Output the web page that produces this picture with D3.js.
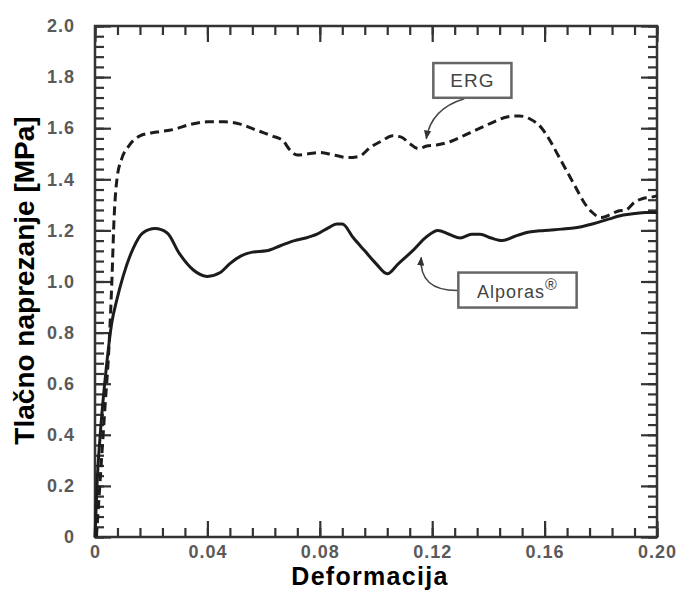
<!DOCTYPE html>
<html>
<head>
<meta charset="utf-8">
<script src="https://cdn.jsdelivr.net/npm/d3@7"></script>
<style>
  body { margin: 0; background: #fff; }
  text { font-family: "Liberation Sans", Arial, sans-serif; }
</style>
</head>
<body>
<div id="chart"></div>
<script>
// Data (strain, stress in MPa)
const ergStrain = [0.0005, 0.002, 0.0035, 0.005, 0.006, 0.0068, 0.0078, 0.0095, 0.012, 0.016, 0.022, 0.028, 0.034, 0.040, 0.046, 0.052, 0.058, 0.063, 0.067, 0.069, 0.072, 0.076, 0.080, 0.085, 0.090, 0.094, 0.098, 0.102, 0.106, 0.109, 0.112, 0.115, 0.118, 0.122, 0.127, 0.132, 0.137, 0.142, 0.147, 0.151, 0.155, 0.159, 0.162, 0.165, 0.168, 0.171, 0.174, 0.177, 0.180, 0.183, 0.186, 0.189, 0.192, 0.195, 0.198, 0.200];
const ergStress = [0, 0.25, 0.5, 0.75, 1.0, 1.25, 1.40, 1.48, 1.53, 1.57, 1.585, 1.595, 1.615, 1.625, 1.625, 1.615, 1.59, 1.57, 1.55, 1.52, 1.495, 1.50, 1.505, 1.495, 1.485, 1.49, 1.525, 1.55, 1.57, 1.565, 1.54, 1.52, 1.53, 1.535, 1.55, 1.575, 1.60, 1.625, 1.645, 1.648, 1.635, 1.60, 1.55, 1.49, 1.43, 1.37, 1.31, 1.27, 1.25, 1.26, 1.275, 1.28, 1.31, 1.325, 1.33, 1.335];

const alpStrain = [0, 0.0007, 0.002, 0.004, 0.006, 0.0078, 0.010, 0.0136, 0.017, 0.0214, 0.0257, 0.030, 0.035, 0.040, 0.0446, 0.048, 0.052, 0.056, 0.061, 0.066, 0.071, 0.075, 0.079, 0.083, 0.086, 0.088, 0.092, 0.096, 0.100, 0.104, 0.108, 0.113, 0.118, 0.122, 0.126, 0.130, 0.134, 0.137, 0.141, 0.145, 0.149, 0.153, 0.160, 0.166, 0.171, 0.177, 0.183, 0.188, 0.192, 0.196, 0.200];
const alpStress = [0, 0.2, 0.42, 0.66, 0.84, 0.93, 1.02, 1.13, 1.19, 1.207, 1.19, 1.11, 1.045, 1.02, 1.035, 1.07, 1.10, 1.115, 1.12, 1.14, 1.16, 1.17, 1.185, 1.21, 1.225, 1.225, 1.17, 1.12, 1.07, 1.03, 1.07, 1.12, 1.175, 1.20, 1.185, 1.17, 1.185, 1.185, 1.17, 1.16, 1.175, 1.19, 1.20, 1.205, 1.21, 1.225, 1.245, 1.26, 1.266, 1.27, 1.27];

const xTickValues = [0, 0.04, 0.08, 0.12, 0.16, 0.20];
const xTickLabels = ["0", "0.04", "0.08", "0.12", "0.16", "0.20"];
const yTickValues = [0, 0.2, 0.4, 0.6, 0.8, 1.0, 1.2, 1.4, 1.6, 1.8, 2.0];
const yTickLabels = ["0", "0.2", "0.4", "0.6", "0.8", "1.0", "1.2", "1.4", "1.6", "1.8", "2.0"];

// Chart size and margins
const w = 676, h = 592;
const margin = { top: 26, right: 19, bottom: 55, left: 95 };

const svg = d3.select("#chart").append("svg").attr("width", w).attr("height", h);
svg.append("rect").attr("width", w).attr("height", h).attr("fill", "#fff");

const xScale = d3.scaleLinear().domain([0, 0.2]).range([margin.left, w - margin.right]);
const yScale = d3.scaleLinear().domain([0, 2.0]).range([h - margin.bottom, margin.top]);

const x0 = margin.left, x1 = w - margin.right, y0 = h - margin.bottom, y1 = margin.top;
const axisColor = "#333";

// minor tick positions
const xMinor = d3.range(0, 0.2001, 0.008).map(v => +v.toFixed(3));
const yMinor = d3.range(0, 2.0001, 0.04).map(v => +v.toFixed(2));

function styleAxis(g) {
  g.select(".domain").remove();
  g.selectAll(".tick line").attr("stroke", axisColor).attr("stroke-width", 2.2);
}

// bottom axis (labels + inward ticks)
svg.append("g").attr("transform", `translate(0,${y0})`)
  .call(d3.axisBottom(xScale).tickValues(xMinor).tickSize(-9).tickFormat(""))
  .call(styleAxis);
const bottomAxis = svg.append("g").attr("transform", `translate(0,${y0})`)
  .call(d3.axisBottom(xScale).tickValues(xTickValues).tickSize(-16).tickPadding(8)
    .tickFormat((d, i) => xTickLabels[i]))
  .call(styleAxis);
bottomAxis.selectAll(".tick text")
  .attr("fill", "#5a5a5a").attr("font-size", 18).attr("font-weight", "bold")
  .attr("letter-spacing", 1);

// top axis
svg.append("g").attr("transform", `translate(0,${y1})`)
  .call(d3.axisTop(xScale).tickValues(xMinor).tickSize(-9).tickFormat(""))
  .call(styleAxis);
svg.append("g").attr("transform", `translate(0,${y1})`)
  .call(d3.axisTop(xScale).tickValues(xTickValues).tickSize(-16).tickFormat(""))
  .call(styleAxis);

// left axis
svg.append("g").attr("transform", `translate(${x0},0)`)
  .call(d3.axisLeft(yScale).tickValues(yMinor).tickSize(-9).tickFormat(""))
  .call(styleAxis);
const leftAxis = svg.append("g").attr("transform", `translate(${x0},0)`)
  .call(d3.axisLeft(yScale).tickValues(yTickValues).tickSize(-16).tickPadding(20)
    .tickFormat((d, i) => yTickLabels[i]))
  .call(styleAxis);
leftAxis.selectAll(".tick text")
  .attr("fill", "#5a5a5a").attr("font-size", 18).attr("font-weight", "bold")
  .attr("letter-spacing", 1);

// right axis
svg.append("g").attr("transform", `translate(${x1},0)`)
  .call(d3.axisRight(yScale).tickValues(yMinor).tickSize(-9).tickFormat(""))
  .call(styleAxis);
svg.append("g").attr("transform", `translate(${x1},0)`)
  .call(d3.axisRight(yScale).tickValues(yTickValues).tickSize(-16).tickFormat(""))
  .call(styleAxis);

// frame
svg.append("rect")
  .attr("x", x0).attr("y", y1).attr("width", x1 - x0).attr("height", y0 - y1)
  .attr("fill", "none").attr("stroke", axisColor).attr("stroke-width", 2.5);

// curves
const line = d3.line()
  .x(d => xScale(d[0]))
  .y(d => yScale(d[1]))
  .curve(d3.curveMonotoneX);

svg.append("path")
  .datum(ergStrain.map((s, i) => [s, ergStress[i]]))
  .attr("d", line)
  .attr("fill", "none").attr("stroke", "#1c1c1c").attr("stroke-width", 3)
  .attr("stroke-dasharray", "9,5");

svg.append("path")
  .datum(alpStrain.map((s, i) => [s, alpStress[i]]))
  .attr("d", line)
  .attr("fill", "none").attr("stroke", "#1c1c1c").attr("stroke-width", 3);

// arrow marker
svg.append("defs").append("marker")
  .attr("id", "arrow").attr("viewBox", "0 0 10 10")
  .attr("refX", 9).attr("refY", 5)
  .attr("markerWidth", 9).attr("markerHeight", 9)
  .attr("markerUnits", "userSpaceOnUse")
  .attr("orient", "auto")
  .append("path").attr("d", "M0,1 L10,5 L0,9 Z").attr("fill", "#333");

// annotations (in data units)
const ergBox = [0.1204, 0.1482, 1.855, 1.719];
const ergArrow = [[0.1314, 1.715], [0.1196, 1.676], [0.1179, 1.559]];
const alpBox = [0.1293, 0.1714, 1.035, 0.898];
const alpArrow = [[0.1293, 0.965], [0.1152, 0.963], [0.1161, 1.094]];

function drawBox(b) {
  svg.append("rect")
    .attr("x", xScale(b[0])).attr("y", yScale(b[2]))
    .attr("width", xScale(b[1]) - xScale(b[0]))
    .attr("height", yScale(b[3]) - yScale(b[2]))
    .attr("fill", "#fff").attr("stroke", "#666").attr("stroke-width", 2.5);
}
function drawArrow(a) {
  const p = a.map(d => [xScale(d[0]), yScale(d[1])]);
  svg.append("path")
    .attr("d", `M${p[0][0]},${p[0][1]} Q${p[1][0]},${p[1][1]} ${p[2][0]},${p[2][1]}`)
    .attr("fill", "none").attr("stroke", "#444").attr("stroke-width", 1.5)
    .attr("marker-end", "url(#arrow)");
}

drawArrow(ergArrow);
drawArrow(alpArrow);
drawBox(ergBox);
drawBox(alpBox);

svg.append("text")
  .attr("x", xScale((ergBox[0] + ergBox[1]) / 2))
  .attr("y", yScale((ergBox[2] + ergBox[3]) / 2))
  .attr("text-anchor", "middle").attr("dy", "0.36em")
  .attr("font-size", 19).attr("fill", "#444").attr("letter-spacing", 1)
  .text("ERG");

const alpText = svg.append("text")
  .attr("x", xScale((alpBox[0] + alpBox[1]) / 2))
  .attr("y", yScale((alpBox[2] + alpBox[3]) / 2))
  .attr("text-anchor", "middle").attr("dy", "0.45em")
  .attr("font-size", 18).attr("fill", "#444").attr("letter-spacing", 1);
alpText.append("tspan").text("Alporas");
alpText.append("tspan").attr("font-size", 16).attr("dy", "-0.5em").text("®");

// axis titles
svg.append("text")
  .attr("x", (x0 + x1) / 2 - 6).attr("y", 585)
  .attr("text-anchor", "middle")
  .attr("font-size", 25).attr("font-weight", "bold").attr("letter-spacing", 1.3)
  .attr("fill", "#000")
  .text("Deformacija");

svg.append("text")
  .attr("transform", `translate(34,${(y0 + y1) / 2 - 1}) rotate(-90)`)
  .attr("text-anchor", "middle")
  .attr("font-size", 28).attr("font-weight", "bold")
  .attr("fill", "#000")
  .text("Tlačno naprezanje [MPa]");
</script>
</body>
</html>
